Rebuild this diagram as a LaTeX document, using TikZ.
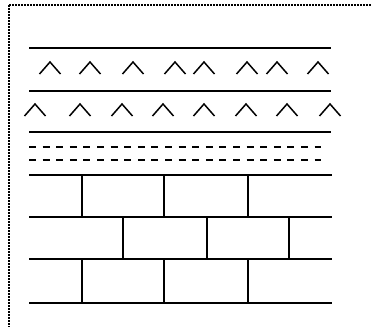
\documentclass[tikz,border=0pt]{standalone}
\usepackage{tikz}

\begin{document}
\begin{tikzpicture}[x=1pt, y=-1pt,
  frameline/.style={line width=1.5pt, dash pattern=on 1.5pt off 1.5pt},
  layerline/.style={line width=1.4pt},
  chevron/.style={line width=1.5pt, line join=miter},
  dashline/.style={line width=1.5pt, dash pattern=on 7pt off 6.6pt}]
  \useasboundingbox (0,0) rectangle (371,327);
  \coordinate (corner) at (9,5);
  \draw[frameline] (corner) -- (371,5);
  \draw[frameline] (corner) -- (9,327);
  \foreach \y in {48,91,132} \draw[layerline] (29,\y) -- (331,\y);
  \foreach \x in {50,90,133,175,204,247,277,318}
    \draw[chevron] (\x-10.5,74) -- (\x,62) -- (\x+10.5,74);
  \foreach \x in {35,80,122,163,204,246,287,330}
    \draw[chevron] (\x-10.5,116) -- (\x,104) -- (\x+10.5,116);
  \foreach \y in {147,160} \draw[dashline] (29,\y) -- (321,\y);
  \foreach \y in {175,217,259,303} \draw[layerline] (29,\y) -- (332,\y);
  \foreach \x in {82,164,248} {
    \draw[layerline] (\x,175) -- (\x,217);
    \draw[layerline] (\x,259) -- (\x,303);
  }
  \foreach \x in {123,207,289} \draw[layerline] (\x,217) -- (\x,259);
\end{tikzpicture}
\end{document}
